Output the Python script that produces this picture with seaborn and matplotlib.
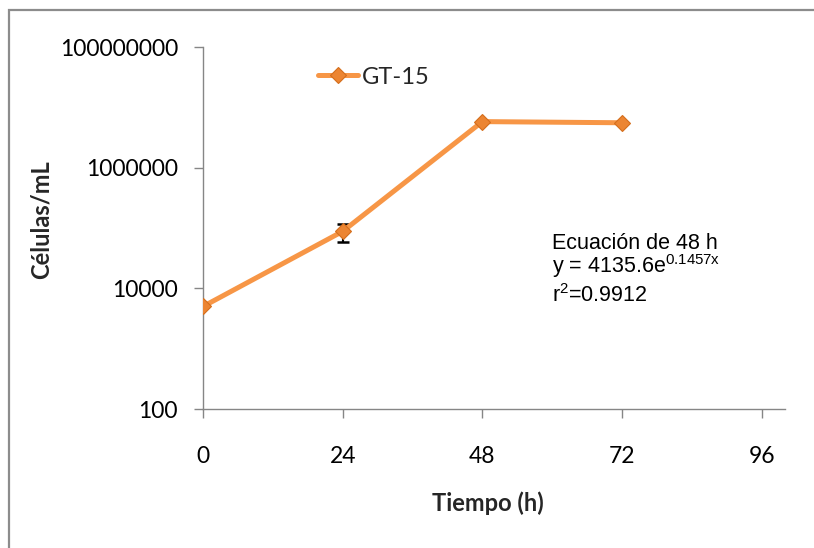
import matplotlib
matplotlib.use("Agg")
import matplotlib.pyplot as plt
import numpy as np
import pandas as pd
import seaborn as sns
from matplotlib.patches import Rectangle
from matplotlib.ticker import NullLocator

# Growth curve of strain GT-15
hours = [0, 24, 48, 72]
cells = [5000, 88000, 5.8e6, 5.55e6]
cells_err = [0, 30000, 0, 0]
series_name = "GT-15"

x_ticks = [0, 24, 48, 72, 96]
y_ticks = [100, 10000, 1000000, 100000000]
y_tick_labels = ["100", "10000", "1000000", "100000000"]

x_label = "Tiempo (h)"
y_label = "Células/mL"
fit_lines = [
    "Ecuación de 48 h",
    r"y = 4135.6e$^{\mathregular{0.1457x}}$",
    r"r$^{\mathregular{2}}$=0.9912",
]

sns.set_theme(style="white")
plt.rcParams["font.family"] = ["Lato", "DejaVu Sans"]
plt.rcParams["mathtext.fontset"] = "custom"
plt.rcParams["mathtext.rm"] = "Liberation Sans"

W, H = 814, 548
fig = plt.figure(figsize=(W / 100, H / 100), dpi=100)
ax = fig.add_axes([203 / W, 1 - 409 / H, 582 / W, 362 / H])

line_color = "#F79646"
marker_face = "#EC8532"
marker_edge = "#D46E1C"
axis_gray = "#868686"

df = pd.DataFrame({"Tiempo": hours, "Celulas": cells, "err": cells_err})

# error bars underneath the line
err_df = df[df["err"] > 0]
ax.errorbar(err_df["Tiempo"], err_df["Celulas"], yerr=err_df["err"], fmt="none",
            ecolor="black", elinewidth=1.5, capsize=4, capthick=1.8, zorder=1)

sns.lineplot(data=df, x="Tiempo", y="Celulas", color=line_color, linewidth=3.6,
             marker="D", markersize=8.4, markerfacecolor=marker_face,
             markeredgecolor=marker_edge, markeredgewidth=0.8,
             label=series_name, ax=ax, zorder=3)

ax.set_yscale("log")
ax.set_xlim(0, 100)
ax.set_ylim(100, 1e8)
ax.set_xticks(x_ticks)
ax.set_xticklabels([str(t) for t in x_ticks])
ax.set_yticks(y_ticks)
ax.set_yticklabels(y_tick_labels)
ax.yaxis.set_minor_locator(NullLocator())

for side in ["top", "right"]:
    ax.spines[side].set_visible(False)
for side in ["left", "bottom"]:
    ax.spines[side].set_color(axis_gray)
    ax.spines[side].set_linewidth(1.0)

ax.tick_params(axis="both", which="major", direction="out", length=6.5, width=1.0,
               color=axis_gray, labelsize=16.5, labelcolor="black",
               bottom=True, left=True)
ax.tick_params(axis="x", pad=20)
ax.tick_params(axis="y", pad=11.5)

ax.set_xlabel(x_label, fontsize=17, fontweight="bold", va="center")
ax.set_ylabel(y_label, fontsize=17, fontweight="bold", va="center")
ax.xaxis.set_label_coords((488 - 203) / 582, (409 - 503) / 362)
ax.yaxis.set_label_coords((41 - 203) / 582, (409 - 220) / 362)

leg = ax.legend(loc="center left", bbox_to_anchor=(318 / W, 1 - 77 / H),
                bbox_transform=fig.transFigure, frameon=False, fontsize=17,
                handlelength=1.7, handletextpad=0.15, borderpad=0,
                borderaxespad=0)

# fitted equation
baselines = [249, 273, 302]
for txt, yb in zip(fit_lines, baselines):
    fig.text(552 / W, 1 - yb / H, txt, fontsize=15.5, family="Liberation Sans",
             color="black", ha="left", va="baseline")

# outer chart frame
fig.add_artist(Rectangle((9 / W, -0.5), 2.0, 1 - 10 / H + 0.5,
                         transform=fig.transFigure, fill=False,
                         edgecolor="#8c8c8c", linewidth=1.6))

fig.savefig("out.png", dpi=100)
